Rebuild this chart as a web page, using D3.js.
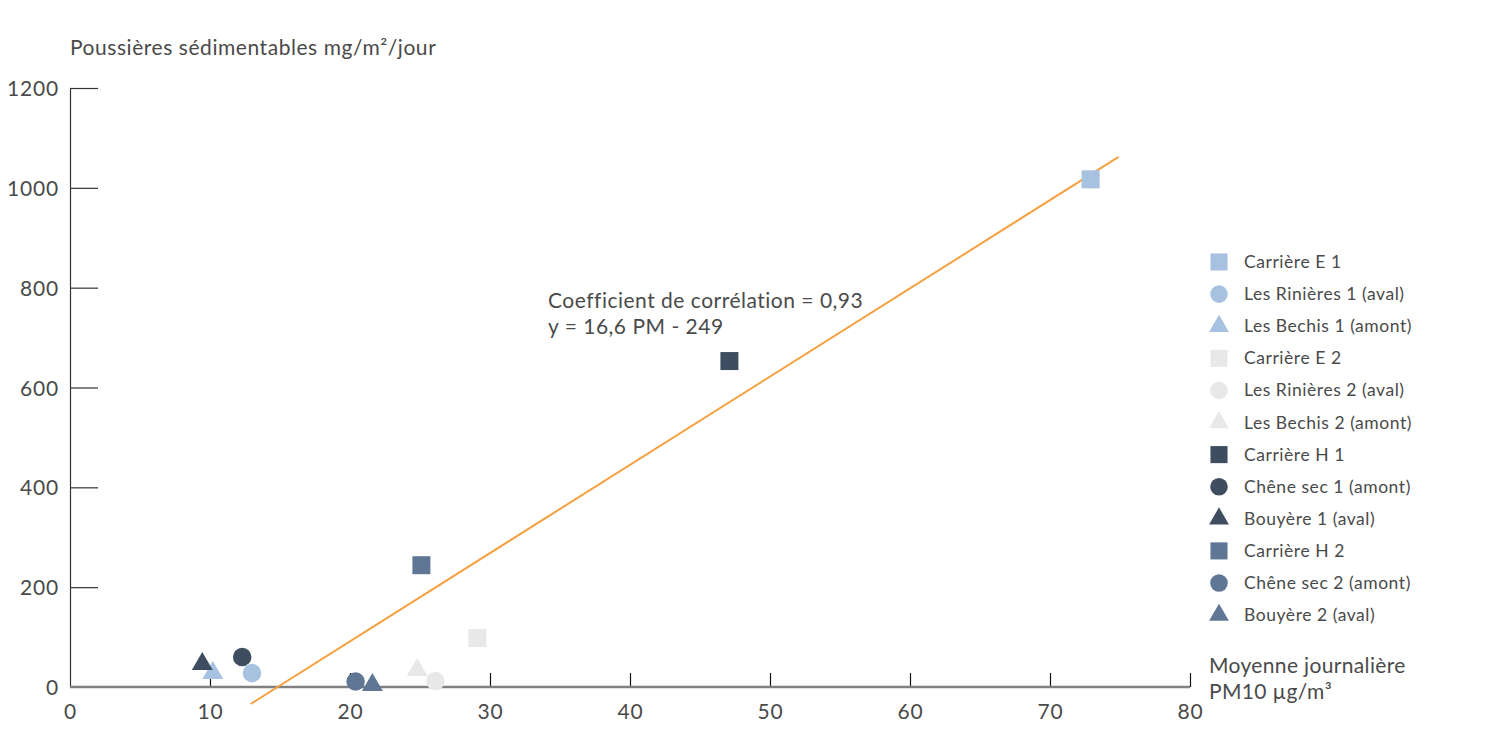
<!DOCTYPE html>
<html>
<head>
<meta charset="utf-8">
<script src="https://cdn.jsdelivr.net/npm/d3@7/dist/d3.min.js"></script>
<style>
  html, body { margin: 0; padding: 0; background: #fff; }
  svg text { font-family: Lato, "Open Sans", sans-serif; fill: #4a4a4a; }
</style>
</head>
<body>
<svg id="chart" width="1498" height="740"></svg>
<script>
// ---- data ----
const seriesNames = [
  "Carrière E 1", "Les Rinières 1 (aval)", "Les Bechis 1 (amont)",
  "Carrière E 2", "Les Rinières 2 (aval)", "Les Bechis 2 (amont)",
  "Carrière H 1", "Chêne sec 1 (amont)", "Bouyère 1 (aval)",
  "Carrière H 2", "Chêne sec 2 (amont)", "Bouyère 2 (aval)"
];
const pm10Values = [72.9, 13.0, 10.2, 29.1, 26.1, 24.8, 47.1, 12.3, 9.45, 25.1, 20.4, 21.6];
const dustValues = [1017, 28, 28, 98, 12, 34, 653, 60, 46, 244, 11, 4];
const shapes = ["square", "circle", "triangle", "square", "circle", "triangle",
                "square", "circle", "triangle", "square", "circle", "triangle"];
const colors = ["#a7c2e1", "#a7c2e1", "#a7c2e1", "#e8e8e8", "#e8e8e8", "#e8e8e8",
                "#3e4e60", "#3e4e60", "#3e4e60", "#5f7795", "#5f7795", "#5f7795"];
const xTicks = [0, 10, 20, 30, 40, 50, 60, 70, 80];
const yTicks = [0, 200, 400, 600, 800, 1000, 1200];
const trendX = [12.9, 74.9];
const trendY = [-34, 1062];
const yTitle = "Poussières sédimentables mg/m²/jour";
const xTitleLines = ["Moyenne journalière", "PM10 µg/m³"];
const annotationLines = ["Coefficient de corrélation = 0,93", "y = 16,6 PM - 249"];

// ---- chart ----
const svg = d3.select("#chart");
const x = d3.scaleLinear().domain([0, 80]).range([70, 1190]);
const y = d3.scaleLinear().domain([0, 1200]).range([687, 88]);

const symType = { square: d3.symbolSquare, circle: d3.symbolCircle, triangle: d3.symbolTriangle };
const symSize = { square: 324, circle: 270, triangle: 190 };

// y axis
const yAxis = svg.append("g").attr("transform", `translate(${x(0)},0)`)
  .call(d3.axisLeft(y).tickValues(yTicks).tickFormat(d3.format("d"))
    .tickSizeInner(-28).tickSizeOuter(0).tickPadding(11));
yAxis.select(".domain").attr("stroke", "#333").attr("stroke-width", 1.2);
yAxis.selectAll(".tick line").attr("stroke", "#333").attr("stroke-width", 1.2)
  .filter(d => d === 0).remove();
yAxis.selectAll(".tick text").attr("font-size", 21).attr("dy", "0.36em")
  .attr("letter-spacing", 0.8)
  .style("font-family", "Lato, sans-serif").attr("fill", "#4a4a4a");

// x axis
const xAxis = svg.append("g").attr("transform", `translate(0,${y(0)})`)
  .call(d3.axisBottom(x).tickValues(xTicks).tickFormat(d3.format("d"))
    .tickSizeInner(-14).tickSizeOuter(0).tickPadding(24));
xAxis.select(".domain").remove();
xAxis.selectAll(".tick line").attr("stroke", "#111").attr("stroke-width", 1.2)
  .filter(d => d === 0).remove();
xAxis.selectAll(".tick text").attr("font-size", 21).attr("dy", "0.36em")
  .attr("letter-spacing", 0.8)
  .style("font-family", "Lato, sans-serif").attr("fill", "#4a4a4a");
svg.append("line")
  .attr("x1", x(0)).attr("x2", x(80)).attr("y1", y(0)).attr("y2", y(0))
  .attr("stroke", "#808080").attr("stroke-width", 2.5);

// trend line
svg.append("line")
  .attr("x1", x(trendX[0])).attr("y1", y(trendY[0]))
  .attr("x2", x(trendX[1])).attr("y2", y(trendY[1]))
  .attr("stroke", "#f6a03f").attr("stroke-width", 2);

// points
const pts = seriesNames.map((n, i) => ({ name: n, px: pm10Values[i], py: dustValues[i], shape: shapes[i], color: colors[i] }));
svg.append("g").selectAll("path").data(pts).join("path")
  .attr("transform", d => `translate(${x(d.px)},${y(d.py)})`)
  .attr("d", d => d3.symbol().type(symType[d.shape]).size(symSize[d.shape])())
  .attr("fill", d => d.color);

// titles
svg.append("text").attr("x", 70).attr("y", 55).attr("font-size", 21)
  .attr("letter-spacing", 0.55).text(yTitle);
xTitleLines.forEach((t, i) => {
  svg.append("text").attr("x", 1209).attr("y", 673 + i * 25.8).attr("font-size", 21)
    .attr("letter-spacing", 0.35).text(t);
});

// annotation
annotationLines.forEach((t, i) => {
  svg.append("text").attr("x", 548).attr("y", 308 + i * 25.6).attr("font-size", 21)
    .attr("letter-spacing", 0.5).text(t);
});

// legend
const leg = svg.append("g");
pts.forEach((d, i) => {
  const cy = 262 + i * 32.1;
  leg.append("path")
    .attr("transform", `translate(1219,${cy})`)
    .attr("d", d3.symbol().type(symType[d.shape]).size(symSize[d.shape] * 0.9)())
    .attr("fill", d.color);
  leg.append("text").attr("x", 1244).attr("y", cy + 6).attr("font-size", 17.5)
    .attr("letter-spacing", 0.55).text(d.name);
});
</script>
</body>
</html>
